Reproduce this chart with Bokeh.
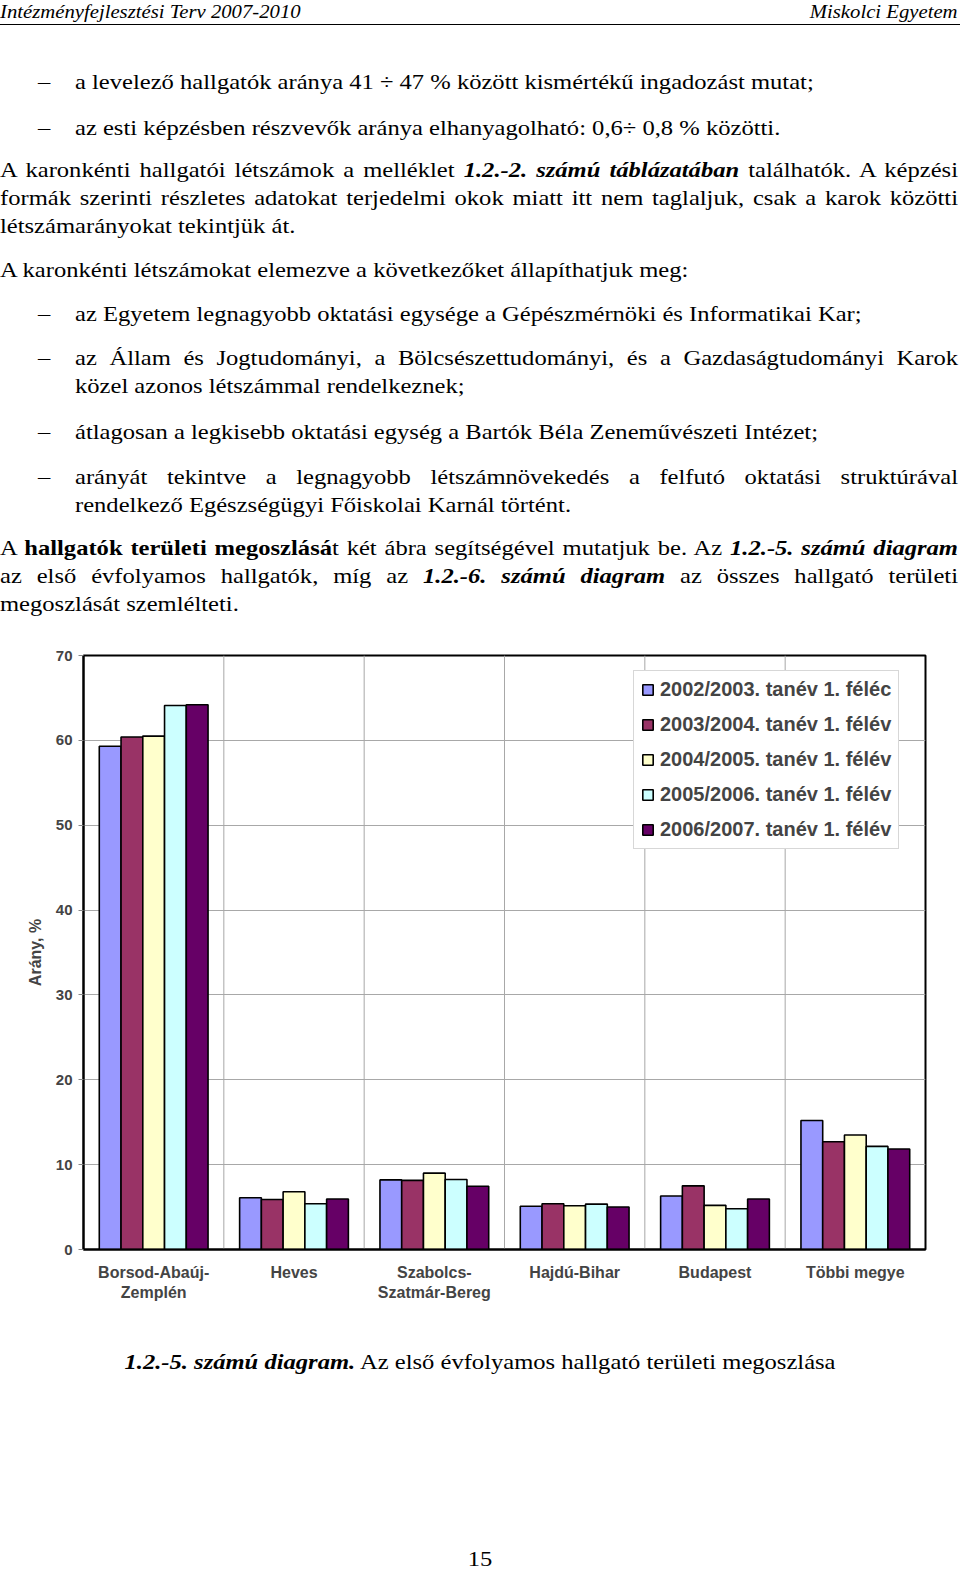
from bokeh.plotting import figure
from bokeh.models import FactorRange, Range1d, Span, Legend, LegendItem, ColumnDataSource, Div, SingleIntervalTicker
from bokeh.transform import dodge
from bokeh.layouts import column
from bokeh.embed import file_html
from bokeh.resources import INLINE

# ---------------- data ----------------
categories = ["Borsod-Abaúj-\nZemplén", "Heves", "Szabolcs-\nSzatmár-Bereg",
              "Hajdú-Bihar", "Budapest", "Többi megye"]
series_labels = ["2002/2003. tanév 1. féléc", "2003/2004. tanév 1. félév",
                 "2004/2005. tanév 1. félév", "2005/2006. tanév 1. félév",
                 "2006/2007. tanév 1. félév"]
v2002 = [59.3, 6.1, 8.2, 5.1, 6.3, 15.2]
v2003 = [60.4, 5.9, 8.15, 5.4, 7.5, 12.7]
v2004 = [60.5, 6.8, 9.0, 5.15, 5.2, 13.5]
v2005 = [64.1, 5.4, 8.25, 5.35, 4.8, 12.15]
v2006 = [64.2, 5.95, 7.45, 5.0, 5.95, 11.85]
y_ticks_step = 10
y_max = 70

colors = ["#9999FF", "#993366", "#FFFFCC", "#CCFFFF", "#660066"]
keys = ["v2002", "v2003", "v2004", "v2005", "v2006"]

SERIF = "'Liberation Serif', 'Times New Roman', serif"
SANS = "Liberation Sans"
SX = 1.17  # horizontal stretch of the body text

# ---------------- top text ----------------
def line(top_c, html, left=0, width=None, justify=False, size=21):
    top = top_c - 14
    w = f"width:{width / SX:.1f}px;" if width else ""
    j = "text-align:justify;text-align-last:justify;" if justify else ""
    return (f'<div style="position:absolute;left:{left}px;top:{top}px;{w}{j}'
            f'white-space:nowrap;line-height:28px;font-size:{size}px;'
            f'transform:scaleX({SX});transform-origin:0 0;">{html}</div>')

def dash(top_c):
    return line(top_c, "–", left=38)

parts = []
parts.append('<div style="position:absolute;left:0;top:0;font-style:italic;font-size:19px;line-height:24px;'
             'transform:scaleX(1.09);transform-origin:0 0;">Intézményfejlesztési Terv 2007-2010</div>')
parts.append('<div style="position:absolute;right:2px;top:0;font-style:italic;font-size:19px;line-height:24px;'
             'transform:scaleX(1.09);transform-origin:100% 0;">Miskolci Egyetem</div>')
parts.append('<div style="position:absolute;left:0;top:24px;width:960px;border-top:1.5px solid #000;"></div>')

parts += [dash(82), line(82, "a levelező hallgatók aránya 41 ÷ 47 % között kismértékű ingadozást mutat;", left=75)]
parts += [dash(128), line(128, "az esti képzésben részvevők aránya elhanyagolható: 0,6÷ 0,8 % közötti.", left=75)]
parts.append(line(170, 'A karonkénti hallgatói létszámok a melléklet <b><i>1.2.-2. számú táblázatában</i></b> találhatók. A képzési', width=958, justify=True))
parts.append(line(198, 'formák szerinti részletes adatokat terjedelmi okok miatt itt nem taglaljuk, csak a karok közötti', width=958, justify=True))
parts.append(line(226, 'létszámarányokat tekintjük át.'))
parts.append(line(270, 'A karonkénti létszámokat elemezve a következőket állapíthatjuk meg:'))
parts += [dash(314), line(314, "az Egyetem legnagyobb oktatási egysége a Gépészmérnöki és Informatikai Kar;", left=75)]
parts += [dash(358), line(358, "az Állam és Jogtudományi, a Bölcsészettudományi, és a Gazdaságtudományi Karok", left=75, width=883, justify=True)]
parts.append(line(386, "közel azonos létszámmal rendelkeznek;", left=75))
parts += [dash(432), line(432, "átlagosan a legkisebb oktatási egység a Bartók Béla Zeneművészeti Intézet;", left=75)]
parts += [dash(477), line(477, "arányát tekintve a legnagyobb létszámnövekedés a felfutó oktatási struktúrával", left=75, width=883, justify=True)]
parts.append(line(505, "rendelkező Egészségügyi Főiskolai Karnál történt.", left=75))
parts.append(line(548, 'A <b>hallgatók területi megoszlásá</b>t két ábra segítségével mutatjuk be. Az <b><i>1.2.-5. számú diagram</i></b>', width=958, justify=True))
parts.append(line(576, 'az első évfolyamos hallgatók, míg az <b><i>1.2.-6. számú diagram</i></b> az összes hallgató területi', width=958, justify=True))
parts.append(line(604, 'megoszlását szemlélteti.'))

top_html = (f'<div style="position:relative;width:960px;height:640px;font-family:{SERIF};color:#000;">'
            + "".join(parts) + '</div>')
top_div = Div(text=top_html, width=960, height=640, margin=0)

# ---------------- chart ----------------
data = dict(cat=categories, v2002=v2002, v2003=v2003, v2004=v2004, v2005=v2005, v2006=v2006)
src = ColumnDataSource(data)

p = figure(width=960, height=680, x_range=FactorRange(*categories), y_range=Range1d(0, y_max),
           output_backend="svg", toolbar_location=None,
           min_border_left=83, min_border_right=35, min_border_top=15, min_border_bottom=71,
           background_fill_color="white", border_fill_color="white")
p.x_range.range_padding = 0

bw = 0.155
items = []
for i, (k, c, lab) in enumerate(zip(keys, colors, series_labels)):
    r = p.vbar(x=dodge("cat", (i - 2) * bw, range=p.x_range), top=k, width=bw, source=src,
               fill_color=c, line_color="black", line_width=1.6)
    items.append(LegendItem(label=lab, renderers=[r]))

for b in range(1, len(categories)):
    p.add_layout(Span(location=b, dimension="height", line_color="#a8a8a8", line_width=1, level="underlay"))

p.xgrid.visible = False
p.ygrid.grid_line_color = "#a8a8a8"
p.ygrid.grid_line_width = 1
p.outline_line_color = "black"
p.outline_line_width = 2

yax = p.yaxis[0]
yax.ticker = SingleIntervalTicker(interval=y_ticks_step)
yax.axis_label = "Arány, %"
yax.axis_label_text_font = SANS
yax.axis_label_text_font_style = "bold"
yax.axis_label_text_font_size = "16px"
yax.axis_label_standoff = 9
yax.major_label_text_font = SANS
yax.major_label_text_font_style = "bold"
yax.major_label_text_font_size = "15px"
yax.major_label_standoff = 6
yax.axis_line_width = 2
yax.major_tick_out = 5
yax.major_tick_in = 0
yax.major_tick_line_color = "#888888"
yax.minor_tick_line_color = None

xax = p.xaxis[0]
xax.major_label_text_font = SANS
xax.major_label_text_font_style = "bold"
xax.major_label_text_font_size = "16px"
xax.major_label_standoff = 8
xax.major_tick_line_color = None
xax.axis_line_width = 2
xax.major_label_orientation = "horizontal"

legend = Legend(items=items, location=(550, 400), label_text_font=SANS,
                label_text_font_style="bold", label_text_font_size="20px",
                glyph_width=13, glyph_height=13, label_height=20, spacing=12,
                padding=7, label_standoff=6, border_line_color="#b0b0b0",
                border_line_width=1.5, background_fill_color="white", background_fill_alpha=1)
p.add_layout(legend, "center")

# ---------------- bottom text ----------------
cw = 960 / SX
bottom_html = (f'<div style="position:relative;width:960px;height:250px;font-family:{SERIF};color:#000;">'
               f'<div style="position:absolute;left:0;top:28px;width:{cw:.1f}px;text-align:center;font-size:21px;line-height:28px;'
               f'transform:scaleX({SX});transform-origin:0 0;">'
               '<b><i>1.2.-5. számú diagram.</i></b> Az első évfolyamos hallgató területi megoszlása</div>'
               f'<div style="position:absolute;left:0;top:225px;width:{cw:.1f}px;text-align:center;font-size:21px;line-height:28px;'
               f'transform:scaleX({SX});transform-origin:0 0;">15</div>'
               '</div>')
bottom_div = Div(text=bottom_html, width=960, height=250, margin=0)

layout = column(top_div, p, bottom_div, spacing=0)
open("out.html", "w").write(file_html(layout, INLINE))
